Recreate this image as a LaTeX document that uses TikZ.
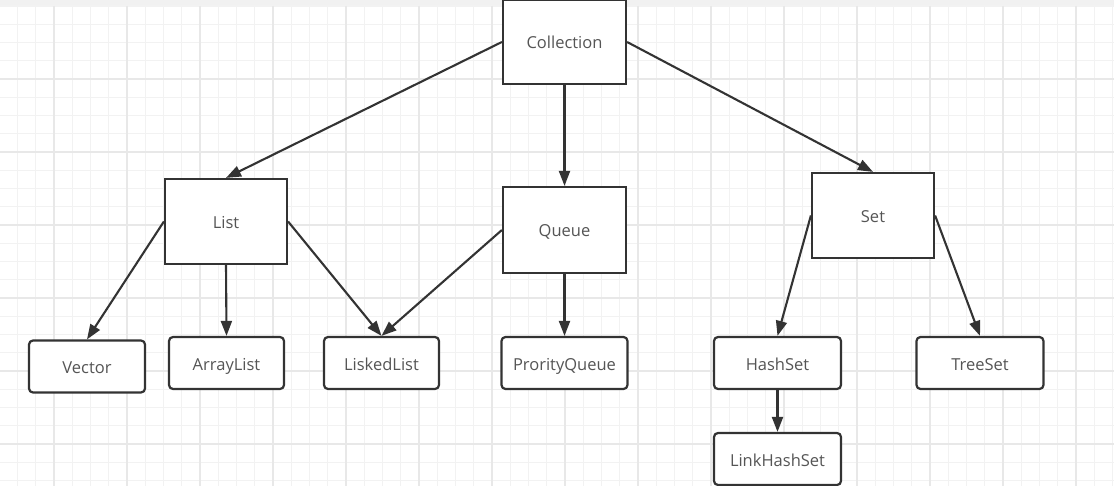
\documentclass[tikz,border=0pt]{standalone}
\usepackage{fontspec}
\setmainfont{Open Sans}
\usetikzlibrary{arrows.meta}
\definecolor{gridfine}{HTML}{F2F2F2}
\definecolor{gridbold}{HTML}{E8E8E8}
\definecolor{band}{HTML}{F1F1F1}
\definecolor{edgec}{HTML}{333333}
\definecolor{txt}{HTML}{555555}
\tikzset{
  bigbox/.style={draw=edgec, line width=2.2bp, fill=white, inner sep=0pt, text=txt,
    font=\fontsize{16.5bp}{19bp}\selectfont, text height=14bp, text depth=0pt},
  smallbox/.style={bigbox, rounded corners=4bp, minimum height=52bp},
  conn/.style={draw=edgec, line width=2.1bp, -{Triangle[length=15bp, width=11bp]}},
}
\begin{document}
\begin{tikzpicture}[x=1bp, y=-1bp]
\fill[white] (0,0) rectangle (1114,486);
\useasboundingbox (0,0) rectangle (1114,486);
\fill[band] (0,0) rectangle (1114,6);
\foreach \i in {0,...,62} {
  \draw[gridfine, line width=1.2bp] ({-19+18.25*\i},6) -- ++(0,480);
}
\foreach \i in {0,...,27} {
  \draw[gridfine, line width=1.2bp] (0,{6+18.25*\i}) -- ++(1114,0);
}
\foreach \i in {0,...,15} {
  \draw[gridbold, line width=1.5bp] ({-19+73*\i},6) -- ++(0,480);
}
\foreach \i in {1,...,6} {
  \draw[gridbold, line width=1.5bp] (0,{6+73*\i}) -- ++(1114,0);
}
\node[bigbox, minimum width=123bp, minimum height=84bp] (coll) at (564.5,42) {Collection};
\node[bigbox, minimum width=122bp, minimum height=85bp] (list) at (226,221.5) {List};
\node[bigbox, minimum width=123bp, minimum height=86bp] (queue) at (564.5,230) {Queue};
\node[bigbox, minimum width=122bp, minimum height=85bp] (set) at (873,215.5) {Set};
\node[smallbox, minimum width=116bp] (vector) at (87,366.5) {Vector};
\node[smallbox, minimum width=115bp] (arraylist) at (226.5,363) {ArrayList};
\node[smallbox, minimum width=115bp] (liskedlist) at (381.5,363) {LiskedList};
\node[smallbox, minimum width=126bp] (prority) at (564.5,363) {ProrityQueue};
\node[smallbox, minimum width=127bp] (hashset) at (777.5,363) {HashSet};
\node[smallbox, minimum width=127bp] (linkhashset) at (777.5,459) {LinkHashSet};
\node[smallbox, minimum width=127bp] (treeset) at (980,363) {TreeSet};
\draw[conn] (coll.west) -- (list.north);
\draw[conn] (coll.south) -- (queue.north);
\draw[conn] (coll.east) -- (set.north);
\draw[conn] (list.west) -- (vector.north);
\draw[conn] (list.south) -- (arraylist.north);
\draw[conn] (list.east) -- (liskedlist.north);
\draw[conn] (queue.west) -- (liskedlist.north);
\draw[conn] (queue.south) -- (prority.north);
\draw[conn] (set.west) -- (hashset.north);
\draw[conn] (set.east) -- (treeset.north);
\draw[conn] (hashset.south) -- (linkhashset.north);
\end{tikzpicture}
\end{document}
